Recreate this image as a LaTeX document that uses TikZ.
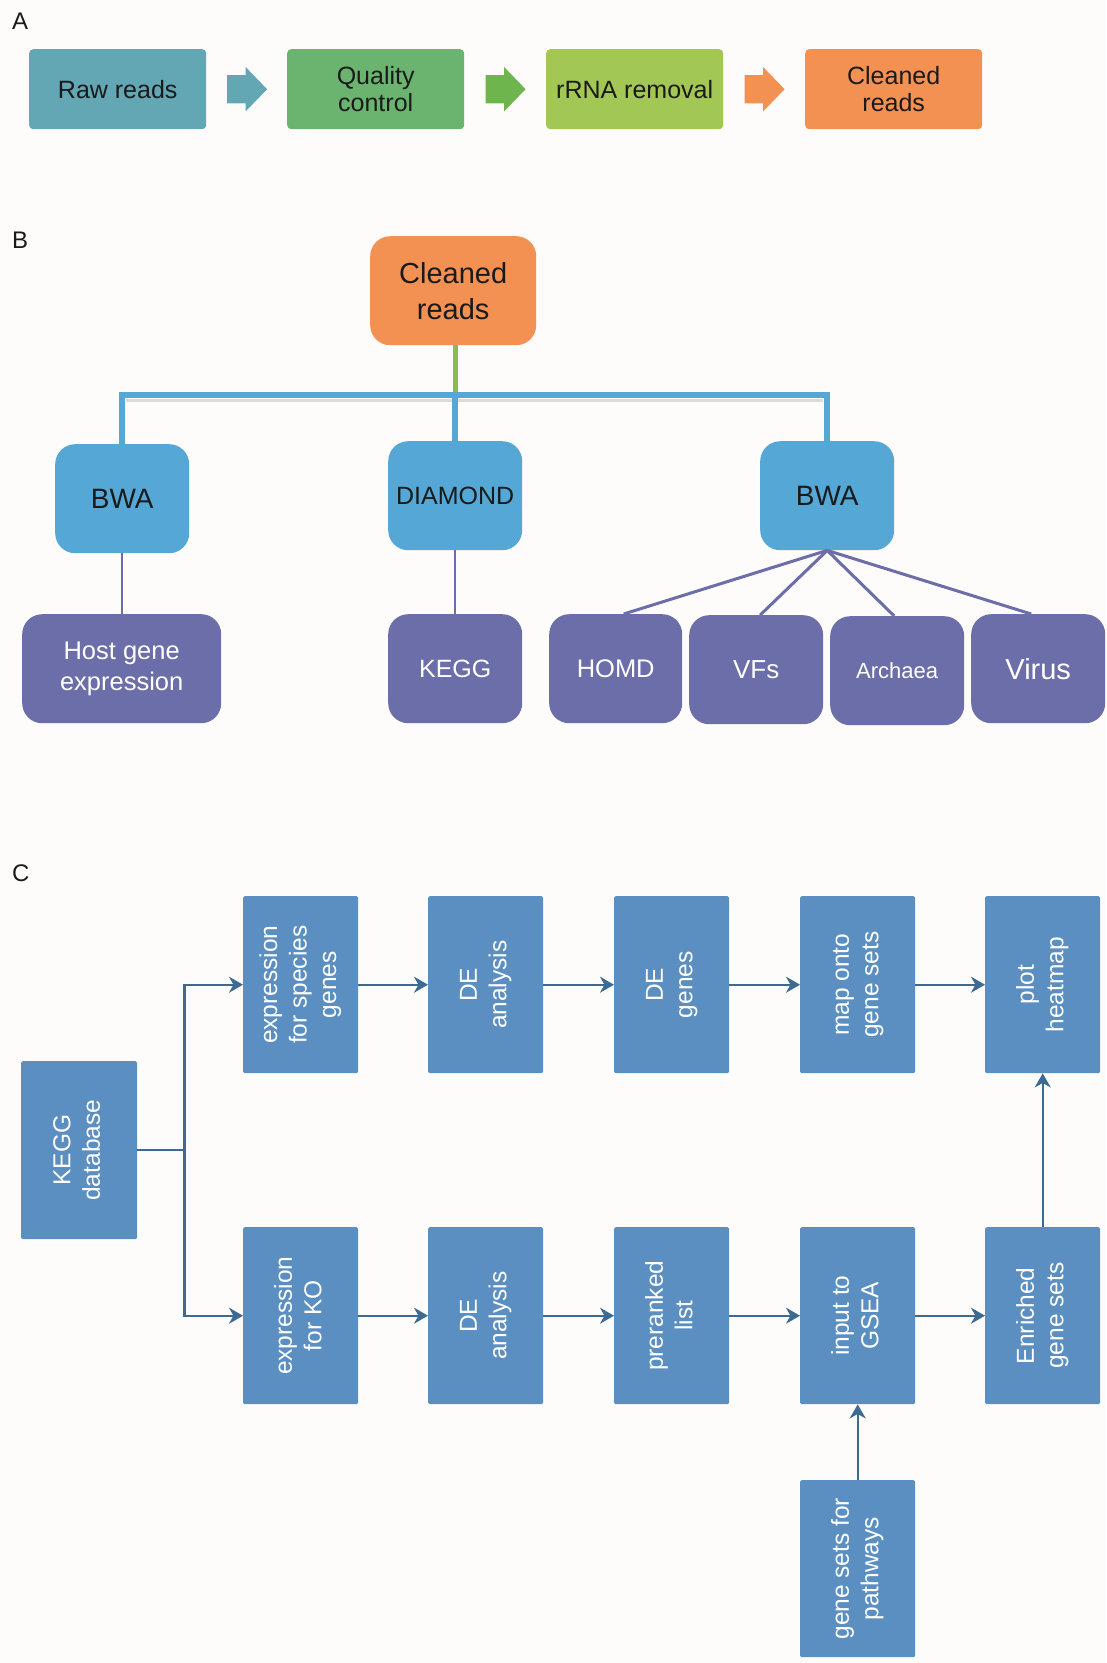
\documentclass[tikz,border=0pt]{standalone}
\usepackage{fontspec}
\setmainfont{Liberation Sans}
\usetikzlibrary{arrows.meta,shapes.arrows,calc}
\definecolor{bgc}{HTML}{FDFCFB}
\definecolor{tealA}{HTML}{63A6B4}
\definecolor{greenA}{HTML}{6BB46F}
\definecolor{greenArr}{HTML}{6DB54C}
\definecolor{limeA}{HTML}{A3C755}
\definecolor{orangeA}{HTML}{F39152}
\definecolor{blueB}{HTML}{55A7D5}
\definecolor{purpleB}{HTML}{6B6EA9}
\definecolor{greenB}{HTML}{8CBA4E}
\definecolor{boxC}{HTML}{5B8FC2}
\definecolor{arrC}{HTML}{3C6A93}
\definecolor{txt}{HTML}{1A1A1A}
\tikzset{
  panellabel/.style={anchor=west,inner sep=0,font=\fontsize{24}{28}\selectfont,text=txt},
  abox/.style={anchor=north west,rounded corners=4pt,minimum width=177pt,minimum height=80pt,
    inner sep=0,align=center,font=\fontsize{25}{27.5}\selectfont,text=txt},
  blockarr/.style={single arrow,draw=none,minimum height=40pt,inner xsep=0pt,inner ysep=14pt,
    single arrow head extend=8pt,single arrow tip angle=92},
  bbox/.style={anchor=north west,rounded corners=20pt,minimum width=134pt,minimum height=109pt,
    inner sep=0,align=center},
  bluebox/.style={bbox,fill=blueB,text=txt},
  purpbox/.style={bbox,fill=purpleB,text=white},
  bar/.style={draw=blueB,line width=6pt,line join=miter},
  purpline/.style={draw=purpleB,line width=2pt},
  fanline/.style={draw=purpleB,line width=3pt},
  cbox/.style={anchor=north west,fill=boxC,minimum width=115pt,minimum height=177pt,inner sep=0,
    rounded corners=1.5pt,text=white,font=\fontsize{24.5}{29.5}\selectfont},
  cline/.style={draw=arrC,line width=2.2pt},
  carrow/.style={cline,-{Stealth[length=14pt,width=16pt,inset=4.5pt]}}
}
\newcommand{\vtext}[1]{\rotatebox{90}{\begin{tabular}{@{}c@{}}#1\end{tabular}}}
\begin{document}
\begin{tikzpicture}[x=1pt,y=-1pt]
\fill[bgc] (0,0) rectangle (1106,1663);
\useasboundingbox (0,0) rectangle (1106,1663);

% ---------- Panel A ----------
\node[panellabel] (labA) at (12,21) {A};
\node[abox,fill=tealA] (raw) at (29,49) {Raw reads};
\node[abox,fill=greenA] (qc) at (287,49) {Quality\\control};
\node[abox,fill=limeA] (rrna) at (546,49) {rRNA removal};
\node[abox,fill=orangeA] (cr1) at (805,49) {Cleaned\\reads};
\node[blockarr,fill=tealA] (ar1) at ($(raw.east)!0.5!(qc.west)+(-6.5,0)$) {};
\node[blockarr,fill=greenArr] (ar2) at ($(qc.east)!0.5!(rrna.west)+(-6.5,0)$) {};
\node[blockarr,fill=orangeA] (ar3) at ($(rrna.east)!0.5!(cr1.west)+(-6.5,0)$) {};

% ---------- Panel B ----------
\node[panellabel] (labB) at (12,240) {B};
\node[bbox,fill=orangeA,text=txt,minimum width=166pt,font=\fontsize{29}{36}\selectfont] (cr2) at (370,236) {Cleaned\\reads};
\node[bluebox,font=\fontsize{28}{32}\selectfont] (bwa1) at (55,444) {BWA};
\node[bluebox,font=\fontsize{25}{30}\selectfont] (dia) at (388,441) {DIAMOND};
\node[bluebox,font=\fontsize{28}{32}\selectfont] (bwa2) at (760,441) {BWA};
\node[purpbox,minimum width=199pt,font=\fontsize{25.5}{30.5}\selectfont] (host) at (22,614) {Host gene\\expression};
\node[purpbox,font=\fontsize{25}{30}\selectfont] (keggB) at (388,614) {KEGG};
\node[purpbox,minimum width=133pt,font=\fontsize{25.5}{30}\selectfont] (homd) at (549,614) {HOMD};
\node[purpbox,font=\fontsize{26}{30}\selectfont] (vfs) at (689,615) {VFs};
\node[purpbox,font=\fontsize{22}{26}\selectfont] (arch) at (830,616) {Archaea};
\node[purpbox,font=\fontsize{29}{32}\selectfont] (virus) at (971,614) {Virus};

\coordinate (hub) at (dia.north |- 0,395);
\draw[draw=greenB,line width=5pt] (hub |- cr2.south) -- (hub);
\draw[draw=gray!45,line width=3pt,opacity=0.6] ($(bwa1.north |- hub)+(4,5)$) -- ($(bwa2.north |- hub)+(-4,5)$);
\draw[bar] (bwa1.north) |- (hub) -| (bwa2.north);
\draw[bar] (hub) -- (dia.north);
\draw[purpline] (bwa1.south) -- (bwa1.south |- host.north);
\draw[purpline] (dia.south) -- (keggB.north);
\draw[fanline] (bwa2.south) -- ($(homd.north)+(8,0)$);
\draw[fanline] (bwa2.south) -- ($(vfs.north)+(4,0)$);
\draw[fanline] (bwa2.south) -- ($(arch.north)+(-3,0)$);
\draw[fanline] (bwa2.south) -- ($(virus.north)+(-7,0)$);

% ---------- Panel C ----------
\node[panellabel] (labC) at (12,873) {C};
\node[cbox] (exp1) at (243,896) {\vtext{expression\\for species\\genes}};
\node[cbox] (de1) at (428,896) {\vtext{DE\\analysis}};
\node[cbox] (deg) at (614,896) {\vtext{DE\\genes}};
\node[cbox] (map) at (800,896) {\vtext{map onto\\gene sets}};
\node[cbox] (heat) at (985,896) {\vtext{plot\\heatmap}};
\node[cbox,minimum width=116pt,minimum height=178pt] (keggC) at (21,1061) {\vtext{KEGG\\database}};
\node[cbox] (exp2) at (243,1227) {\vtext{expression\\for KO}};
\node[cbox] (de2) at (428,1227) {\vtext{DE\\analysis}};
\node[cbox] (prl) at (614,1227) {\vtext{preranked\\list}};
\node[cbox] (gsea) at (800,1227) {\vtext{input to\\GSEA}};
\node[cbox] (enr) at (985,1227) {\vtext{Enriched\\gene sets}};
\node[cbox] (gsp) at (800,1480) {\vtext{gene sets for\\pathways}};

\coordinate (split) at ($(keggC.east)+(47,0)$);
\draw[cline] (keggC.east) -- (split);
\draw[carrow] (split) |- (exp1.west);
\draw[carrow] (split) |- (exp2.west);
\draw[carrow] (exp1.east) -- (de1.west);
\draw[carrow] (de1.east) -- (deg.west);
\draw[carrow] (deg.east) -- (map.west);
\draw[carrow] (map.east) -- (heat.west);
\draw[carrow] (exp2.east) -- (de2.west);
\draw[carrow] (de2.east) -- (prl.west);
\draw[carrow] (prl.east) -- (gsea.west);
\draw[carrow] (gsea.east) -- (enr.west);
\draw[carrow] (enr.north) -- (heat.south);
\draw[carrow] (gsp.north) -- (gsea.south);
\end{tikzpicture}
\end{document}
